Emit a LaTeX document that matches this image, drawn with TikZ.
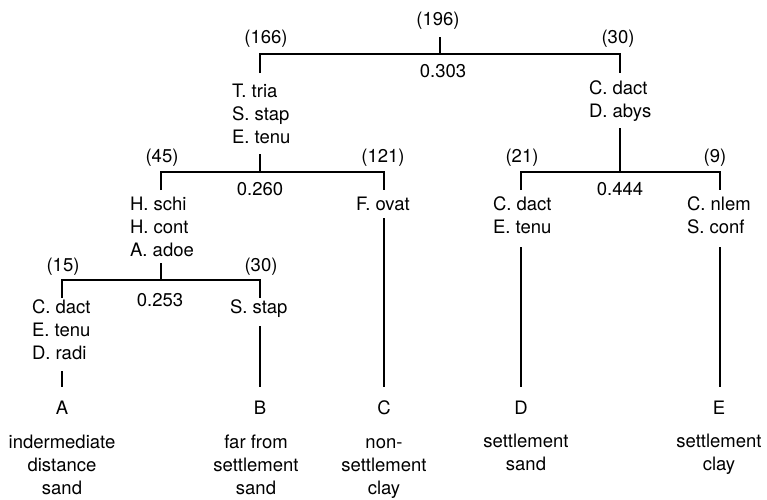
\documentclass[tikz,border=0pt]{standalone}
\usepackage{fontspec}
\setmainfont{TeX Gyre Heros}
\begin{document}
\begin{tikzpicture}[x=1pt,y=-1pt,
  every node/.style={inner sep=0pt,outer sep=0pt,font=\fontsize{18.5}{23}\selectfont},
  lbl/.style={anchor=base},
  grp/.style={anchor=north west,align=left},
  site/.style={anchor=north,align=center},
  br/.style={line width=2pt,line join=miter,line cap=butt}]
\useasboundingbox (0,0) rectangle (767,499);
% ---- root split
\node[lbl] (n196) at (438,25) {(196)};
\node[lbl] (d303) at (443,77) {0.303};
\node[lbl] (n166) at (266,43) {(166)};
\node[lbl] (n30a) at (618,43) {(30)};
\coordinate (rT) at (440,37);
\coordinate (rM) at (440,54);
\coordinate (rL) at (260,54);
\coordinate (rR) at (620,54);
\coordinate (rLd) at (260,73);
\coordinate (rRd) at (620,73);
\draw[br] (rT) -- (rM);
\draw[br] (rLd) -- (rL) -- (rR) -- (rRd);
\node[grp] (g166) at (232,80.9) {\strut T. tria\\S. stap\\E. tenu};
\node[grp] (g30a) at (589,77.9) {\strut C. dact\\D. abys};
% ---- left split (166)
\node[lbl] (n45) at (162,162) {(45)};
\node[lbl] (n121) at (383,162) {(121)};
\node[lbl] (d260) at (260,195) {0.260};
\coordinate (aT) at (260,154);
\coordinate (aM) at (260,172);
\coordinate (aL) at (161,172);
\coordinate (aR) at (384,172);
\coordinate (aLd) at (161,190);
\coordinate (aRd) at (384,190);
\draw[br] (aT) -- (aM);
\draw[br] (aLd) -- (aL) -- (aR) -- (aRd);
\node[grp] (g45) at (130,193.9) {\strut H. schi\\H. cont\\A. adoe};
\node[grp] (g121) at (356,193.9) {\strut F. ovat};
% ---- right split (30)
\node[lbl] (n21) at (522,162) {(21)};
\node[lbl] (n9) at (715,162) {(9)};
\node[lbl] (d444) at (620,195) {0.444};
\coordinate (bT) at (620,128);
\coordinate (bM) at (620,172);
\coordinate (bL) at (521,172);
\coordinate (bR) at (720,172);
\coordinate (bLd) at (521,190);
\coordinate (bRd) at (720,190);
\draw[br] (bT) -- (bM);
\draw[br] (bLd) -- (bL) -- (bR) -- (bRd);
\node[grp] (g21) at (493,193.9) {\strut C. dact\\E. tenu};
\node[grp] (g9) at (687,193.9) {\strut C. nlem\\S. conf};
% ---- split (45)
\node[lbl] (n15) at (63,271) {(15)};
\node[lbl] (n30b) at (261,271) {(30)};
\node[lbl] (d253) at (160,306) {0.253};
\coordinate (cT) at (161,263);
\coordinate (cM) at (161,280);
\coordinate (cL) at (62,280);
\coordinate (cR) at (260,280);
\coordinate (cLd) at (62,298);
\coordinate (cRd) at (260,298);
\draw[br] (cT) -- (cM);
\draw[br] (cLd) -- (cL) -- (cR) -- (cRd);
\node[grp] (g15) at (32,296.9) {\strut C. dact\\E. tenu\\D. radi};
\node[grp] (g30b) at (230,296.9) {\strut S. stap};
% ---- leaves
\node[lbl] (A) at (62,414) {A};
\node[lbl] (B) at (260,414) {B};
\node[lbl] (C) at (384,414) {C};
\node[lbl] (D) at (521,414) {D};
\node[lbl] (E) at (719,414) {E};
\coordinate (Atop) at (62,371);
\coordinate (Btop) at (260,326);
\coordinate (Ctop) at (384,218);
\coordinate (Dtop) at (521,247);
\coordinate (Etop) at (720,247);
\coordinate (Abot) at (62,387);
\coordinate (Bbot) at (260,387);
\coordinate (Cbot) at (384,387);
\coordinate (Dbot) at (521,387);
\coordinate (Ebot) at (720,387);
\draw[br] (Atop) -- (Abot);
\draw[br] (Btop) -- (Bbot);
\draw[br] (Ctop) -- (Cbot);
\draw[br] (Dtop) -- (Dbot);
\draw[br] (Etop) -- (Ebot);
\node[site] (sA) at (62,431.9) {\strut indermediate\\distance\\sand};
\node[site] (sB) at (256,431.9) {\strut far from\\settlement\\sand};
\node[site] (sC) at (384,431.9) {\strut non-\\settlement\\clay};
\node[site] (sD) at (526,430.9) {\strut settlement\\sand};
\node[site] (sE) at (719,430.9) {\strut settlement\\clay};
\end{tikzpicture}
\end{document}
